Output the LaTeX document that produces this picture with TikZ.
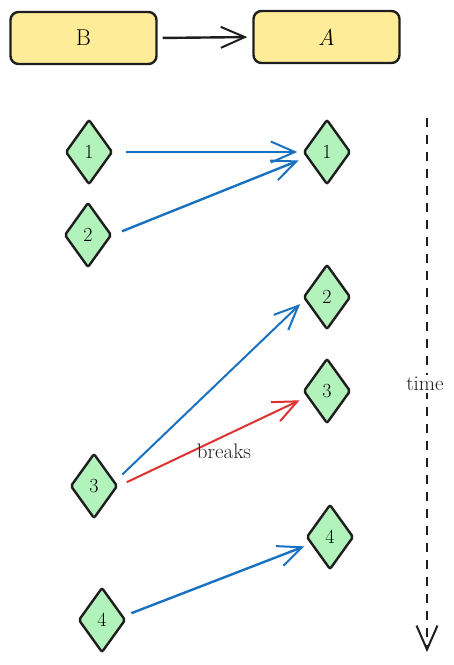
\documentclass[tikz,border=0pt]{standalone}
\usepackage{fontspec}
\usetikzlibrary{shapes.geometric,arrows.meta}
\definecolor{ink}{HTML}{1E1E1E}
\definecolor{boxyellow}{HTML}{FFEC99}
\definecolor{dgreen}{HTML}{B2F2BB}
\definecolor{eblue}{HTML}{1971C2}
\definecolor{ered}{HTML}{E03131}
\begin{document}
\begin{tikzpicture}[x=1pt,y=-1pt,
  box/.style={draw=ink,fill=boxyellow,line width=2.4pt,rounded corners=8pt,minimum width=146pt,minimum height=52pt,inner sep=0pt,font=\fontsize{23}{25}\selectfont},
  dia/.style={diamond,draw=ink,fill=dgreen,line width=2.4pt,rounded corners=2pt,minimum width=47pt,minimum height=65pt,inner sep=0pt,font=\fontsize{20}{22}\selectfont},
  tip/.style={-{Straight Barb[length=24pt,width=21pt,line width=2pt]}},
  link/.style={tip,line width=2.4pt,draw=eblue},
  lbl/.style={font=\fontsize{21}{23}\selectfont,text=ink}
]
\useasboundingbox (0,0) rectangle (454,665);
\node[box] (b) at (83.5,38) {B};
\node[box] (a) at (326.5,37) {\textit{A}};
\draw[tip,line width=2.4pt,draw=ink,shorten <=5pt,shorten >=5pt] (b.east) -- (a.west);

\node[dia] (l1) at (89,152) {1};
\node[dia] (l2) at (88,235) {2};
\node[dia] (l3) at (94,486) {3};
\node[dia] (l4) at (102,620) {4};
\node[dia] (r1) at (327,152) {1};
\node[dia] (r2) at (327,297) {2};
\node[dia] (r3) at (327,391) {3};
\node[dia] (r4) at (330,537) {4};

\draw[link,shorten <=12pt,shorten >=5pt] (l1.east) -- (r1.west);
\draw[link,shorten <=10pt,shorten >=4pt] (l2.east) -- ([yshift=-7pt]r1.west);
\draw[link,line width=2pt,shorten <=5pt,shorten >=3pt] ([yshift=8pt]l3.east) -- ([yshift=-5pt]r2.west);
\draw[link,draw=ered,line width=2pt,shorten <=9pt,shorten >=3pt] (l3.east) -- ([yshift=-8pt]r3.west);
\node[lbl] (brk) at (224,451) {breaks};
\draw[link,shorten <=5pt,shorten >=1pt] ([yshift=5pt]l4.east) -- ([yshift=-9pt]r4.west);

\coordinate (t1) at (427,118);
\coordinate (t2) at (427,652);
\draw[tip,draw=ink,line width=2pt,dash pattern=on 9pt off 8pt] (t1) -- (t2);
\node[lbl,fill=white,inner sep=2pt] (time) at (425,384) {time};
\end{tikzpicture}
\end{document}
